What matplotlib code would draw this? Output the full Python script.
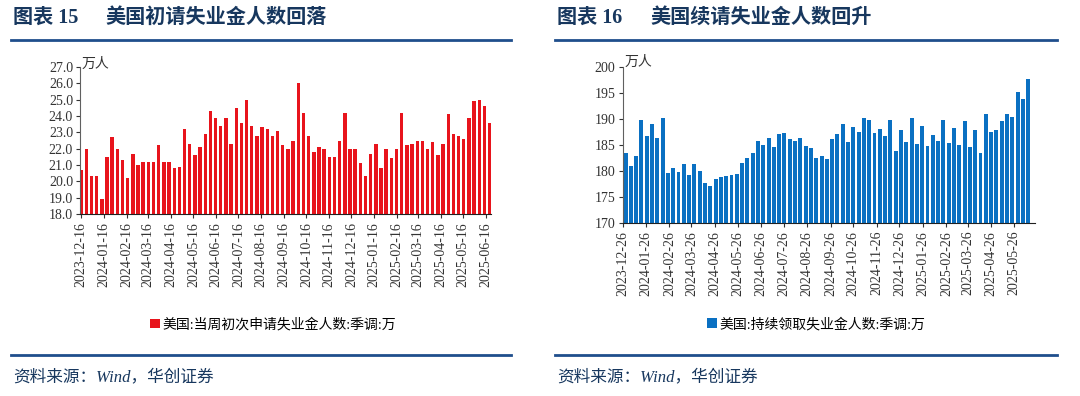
import numpy as np
import pandas as pd
import matplotlib
matplotlib.use('Agg')
import matplotlib.pyplot as plt
from matplotlib.lines import Line2D

plt.rcParams['font.family'] = ['Liberation Serif', 'Noto Sans CJK SC', 'DejaVu Sans']

# 美国当周初次申请失业金人数:季调 (万人), 周度
initial = [20.7, 22.0, 20.3, 20.3, 18.9, 21.5, 22.7, 22.0, 21.3, 20.2,
           21.7, 21.0, 21.2, 21.2, 21.2, 22.2, 21.2, 21.2, 20.8, 20.9,
           23.2, 22.3, 21.6, 22.1, 22.9, 24.3, 23.9, 23.4, 23.9, 22.3,
           24.5, 23.6, 25.0, 23.4, 22.8, 23.3, 23.2, 22.8, 23.1, 22.2,
           22.0, 22.5, 26.0, 24.2, 22.8, 21.8, 22.1, 22.0, 21.5, 21.5,
           22.5, 24.2, 22.0, 22.0, 21.1, 20.3, 21.7, 22.3, 20.8, 22.0,
           21.4, 22.0, 24.2, 22.2, 22.3, 22.5, 22.5, 22.0, 22.4, 21.6,
           22.3, 24.1, 22.9, 22.8, 22.6, 23.9, 24.9, 25.0, 24.6, 23.6]
initial_dates = pd.date_range('2023-12-16', periods=len(initial), freq='7D')

# 美国持续领取失业金人数:季调 (万人), 周度
continuing = [183.5, 180.9, 182.8, 189.7, 186.7, 189.1, 186.3, 190.1, 179.5, 180.5,
              179.7, 181.2, 179.2, 181.2, 179.9, 177.7, 177.0, 178.3, 178.8, 179.0,
              179.2, 179.4, 181.4, 182.4, 183.5, 185.7, 185.0, 186.3, 184.6, 187.0,
              187.2, 186.1, 185.7, 186.3, 184.8, 184.4, 182.4, 182.8, 182.2, 186.1,
              187.0, 189.1, 185.5, 188.5, 187.4, 190.1, 189.8, 187.2, 188.1, 186.6,
              189.8, 183.7, 187.9, 185.5, 190.2, 185.2, 188.7, 184.8, 186.8, 185.7,
              189.8, 185.4, 188.3, 185.0, 189.5, 184.6, 187.9, 183.5, 191.0, 187.4,
              187.9, 189.5, 191.0, 190.4, 195.2, 193.9, 197.7]
continuing_dates = pd.date_range('2023-12-30', periods=len(continuing), freq='7D')

# 刻度: 每月16日 / 每月26日
ticks_left = pd.date_range('2023-12-01', '2025-06-01', freq='MS') + pd.Timedelta(days=15)
ticks_right = pd.date_range('2023-12-01', '2025-05-01', freq='MS') + pd.Timedelta(days=25)

title_color = '#17375e'
line_color = '#1f4e8c'
text_color = '#333333'

fig = plt.figure(figsize=(10.8, 3.96), dpi=100)


def style_axis(ax, ticks):
    for s in ['top', 'right']:
        ax.spines[s].set_visible(False)
    ax.spines['left'].set_color('#606060')
    ax.spines['bottom'].set_color('#202020')
    ax.set_xticks(ticks)
    ax.set_xticklabels([t.strftime('%Y-%m-%d') for t in ticks], rotation=90)
    ax.tick_params(axis='both', labelsize=10, colors=text_color, length=3,
                   width=0.8, pad=2)
    ax.tick_params(axis='x', pad=3)


# 左图
ax1 = fig.add_axes([0.0741, 0.4596, 0.3806, 0.3712])
ax1.bar(initial_dates, initial, width=4.6, color='#e8141c', label='美国:当周初次申请失业金人数:季调:万')
ax1.set_ylim(18, 27)
ax1.set_yticks(np.arange(18, 27.1, 1))
ax1.yaxis.set_major_formatter(plt.FormatStrFormatter('%.1f'))
ax1.set_xlim(pd.Timestamp('2023-12-14 12:00'), pd.Timestamp('2025-06-23'))
style_axis(ax1, ticks_left)
ax1.text(0.003, 1.02, '万人', transform=ax1.transAxes, fontsize=10,
         ha='left', va='center', color=text_color)
ax1.legend(loc='upper center', bbox_to_anchor=(0.47, -0.62), frameon=False,
           fontsize=10, handlelength=0.7, handleheight=0.7, handletextpad=0.2)

# 右图
ax2 = fig.add_axes([0.5764, 0.4381, 0.3819, 0.3927])
ax2.bar(continuing_dates, continuing, width=5.2, color='#0a70c2', label='美国:持续领取失业金人数:季调:万')
ax2.set_ylim(170, 200)
ax2.set_yticks(np.arange(170, 201, 5))
ax2.set_xlim(pd.Timestamp('2023-12-27'), pd.Timestamp('2025-06-23'))
style_axis(ax2, ticks_right)
ax2.text(0.005, 1.03, '万人', transform=ax2.transAxes, fontsize=10,
         ha='left', va='center', color=text_color)
ax2.legend(loc='upper center', bbox_to_anchor=(0.47, -0.53), frameon=False,
           fontsize=10, handlelength=0.7, handleheight=0.7, handletextpad=0.2)

# 标题、分隔线、资料来源
for x_num, x_txt, num, txt in [(13, 105, '图表 15', '美国初请失业金人数回落'),
                               (557, 650, '图表 16', '美国续请失业金人数回升')]:
    fig.text(x_num / 1080, 1 - 18 / 396, num, fontsize=14.5, fontweight='bold',
             color=title_color, va='center')
    fig.text(x_txt / 1080, 1 - 18 / 396, txt, fontsize=14.5, fontweight='bold',
             color=title_color, va='center')

for x0, x1 in [(11, 511), (555, 1057)]:
    for y in [40, 355]:
        fig.add_artist(Line2D([x0 / 1080, x1 / 1080], [1 - y / 396, 1 - y / 396],
                              color=line_color, lw=2))
    fig.text((x0 + 2) / 1080, 1 - 377 / 396, '资料来源：Wind，华创证券', fontsize=12,
             style='italic', color=title_color, va='center')

fig.savefig('out.png', dpi=100)
